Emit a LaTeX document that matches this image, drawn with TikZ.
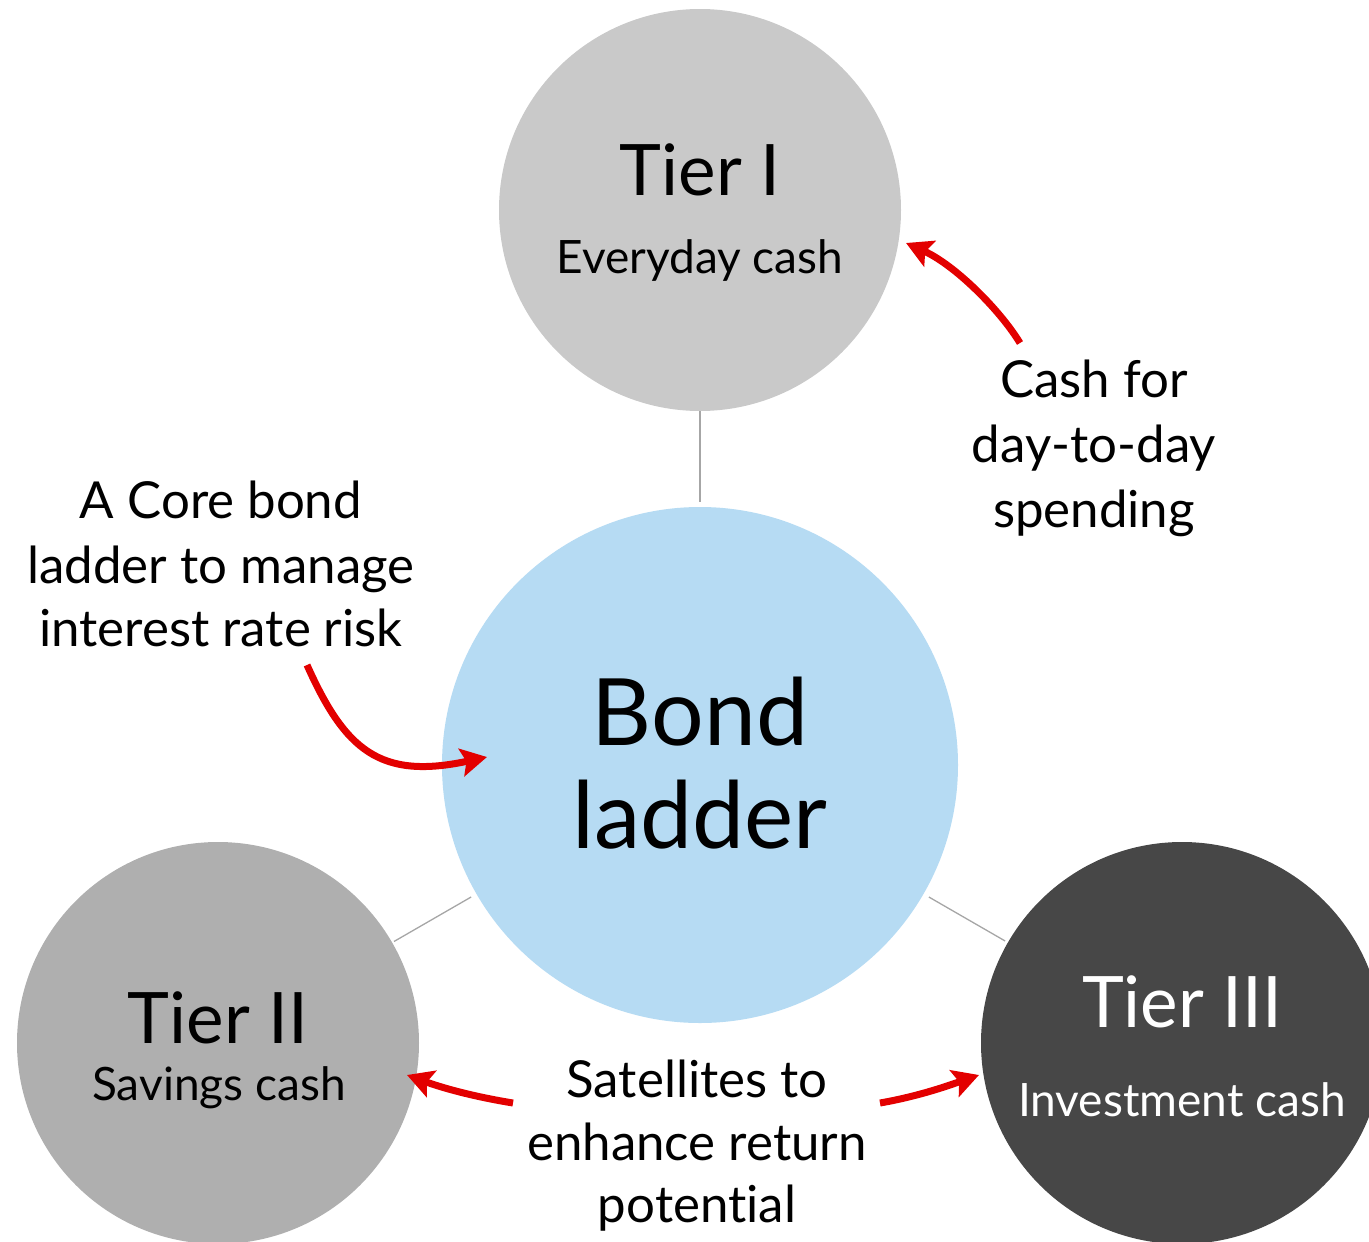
\documentclass[tikz,border=0pt]{standalone}
\usepackage{fontspec}
\setmainfont{Lato}[Ligatures=NoCommon]
\usetikzlibrary{arrows.meta}
\definecolor{tierone}{HTML}{C9C9C9}
\definecolor{tiertwo}{HTML}{AFAFAF}
\definecolor{tierthree}{HTML}{474747}
\definecolor{bondblue}{HTML}{B6DBF3}
\definecolor{arrowred}{HTML}{E30000}
\definecolor{linkgrey}{HTML}{A6A6A6}
\tikzset{
  disc/.style={circle, draw=none, inner sep=0pt},
  linkline/.style={draw=linkgrey, line width=1.3pt},
  redarrow/.style={draw=arrowred, line width=7pt, -{Stealth[length=26pt,width=28pt,inset=5pt]}},
  lbl/.style={anchor=base, inner sep=0pt},
  big/.style={font=\fontsize{71}{75}\selectfont},
  mid/.style={font=\fontsize{46}{50}\selectfont},
  note/.style={font=\fontsize{51}{55}\selectfont},
  huge/.style={font=\fontsize{93}{100}\selectfont}
}
\begin{document}
\begin{tikzpicture}[x=1pt,y=-1pt]
\useasboundingbox (0,0) rectangle (1369,1242);
% circles
\node[disc, fill=tierone, minimum size=402pt] (t1) at (700,210) {};
\node[disc, fill=bondblue, minimum size=516pt] (bond) at (700,765) {};
\node[disc, fill=tiertwo, minimum size=402pt] (t2) at (218,1043) {};
\node[disc, fill=tierthree, minimum size=402pt] (t3) at (1182,1043) {};
% connectors
\draw[linkline, shorten >=5pt] (t1) -- (bond);
\draw[linkline, shorten <=2pt, shorten >=6pt] (t2) -- (bond);
\draw[linkline, shorten <=6pt, shorten >=3pt] (bond) -- (t3);
% circle texts
\node[lbl, big] (t1a) at (700,195) {Tier I};
\node[lbl, mid] (t1b) at (700,273) {Everyday cash};
\node[lbl, huge] (b1) at (700,745) {Bond};
\node[lbl, huge] (b2) at (700,848) {ladder};
\node[lbl, big] (t2a) at (218,1043) {Tier II};
\node[lbl, mid] (t2b) at (219,1100) {Savings cash};
\node[lbl, big, text=white] (t3a) at (1182,1027) {Tier III};
\node[lbl, mid, text=white] (t3b) at (1182,1116) {Investment cash};
% annotations
\node[lbl, note] (c1) at (1094,397) {Cash for};
\node[lbl, note] (c2) at (1094,462) {day-to-day};
\node[lbl, note] (c3) at (1094,527) {spending};
\node[lbl, note] (a1) at (221,518) {A Core bond};
\node[lbl, note] (a2) at (221,583) {ladder to manage};
\node[lbl, note] (a3) at (221,646) {interest rate risk};
\node[lbl, note] (s1) at (697,1097) {Satellites to};
\node[lbl, note] (s2) at (697,1160) {enhance return};
\node[lbl, note] (s3) at (697,1222) {potent\kern0pt ial};
% arrow anchors
\coordinate (r1s) at (1020,343);
\coordinate (r1e) at (906,243);
\coordinate (r2s) at (307,665);
\coordinate (r2e) at (487,757);
\coordinate (r3s) at (513,1103);
\coordinate (r3e) at (407,1075);
\coordinate (r4s) at (880,1103);
\coordinate (r4e) at (979,1075);
\draw[redarrow] (r1s) .. controls (1000,310) and (955,265) .. (r1e);
\draw[redarrow] (r2s) .. controls (345,750) and (380,780) .. (r2e);
\draw[redarrow] (r3s) .. controls (470,1096) and (440,1087) .. (r3e);
\draw[redarrow] (r4s) .. controls (920,1096) and (950,1085) .. (r4e);
\end{tikzpicture}
\end{document}
